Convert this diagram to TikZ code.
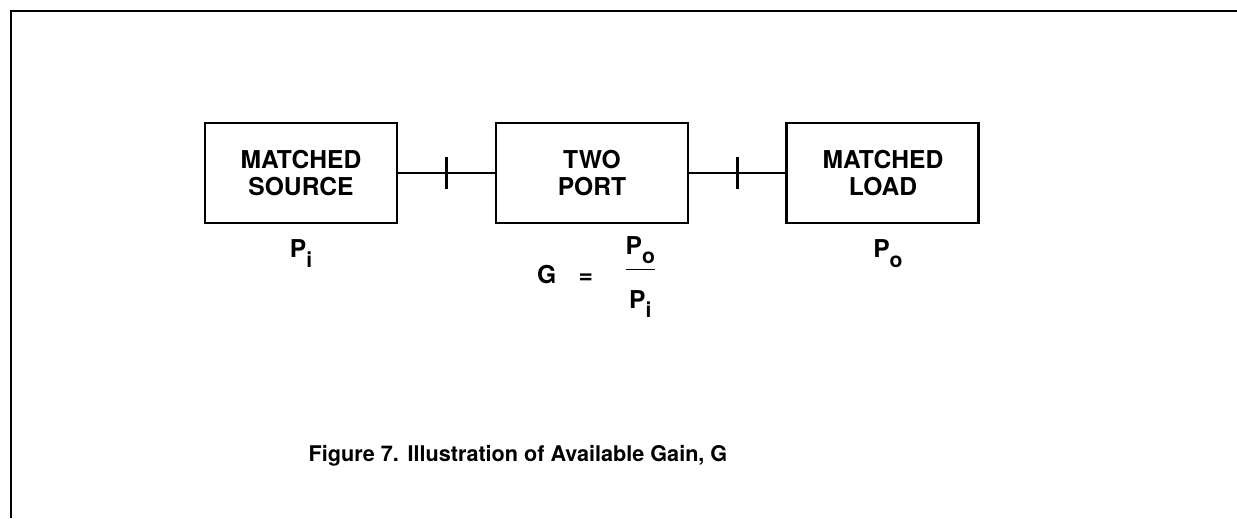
\documentclass[tikz,border=0pt]{standalone}
\usepackage{fontspec}
\setmainfont{TeX Gyre Heros}
\usetikzlibrary{positioning}
\newcommand{\lowsub}[1]{\raisebox{-0.7ex}{\fontsize{12}{12}\selectfont #1}}
\tikzset{
  blockbox/.style={
    rectangle, draw=black, line width=1.7pt,
    minimum width=3.84cm, minimum height=2cm,
    font=\fontsize{14}{15.5}\selectfont\bfseries, align=center, inner sep=2pt
  },
  linkline/.style={line width=1.3pt},
  tickmark/.style={line width=2pt},
  powerlabel/.style={
    font=\fontsize{14}{15}\selectfont\bfseries, inner sep=0pt
  },
  captiontext/.style={
    font=\fontsize{12.3}{15}\selectfont\bfseries
  },
}

\begin{document}
\begin{tikzpicture}
  \useasboundingbox (0,0) rectangle (24.74,-10.36);
  % Frame
  \draw[line width=1.6pt] (0.22,-10.36) -- (0.22,-0.22) -- (24.74,-0.22);

  % Blocks
  \node[blockbox] (src) at (6.02,-3.46) {MATCHED\\SOURCE};
  \node[blockbox, right=1.92cm of src] (twoport) {TWO\\PORT};
  \node[blockbox, right=1.92cm of twoport] (load) {MATCHED\\LOAD};

  % Connectors with tick marks
  \draw[linkline] (src) -- coordinate (tka) (twoport);
  \draw[linkline] (twoport) -- coordinate (tkb) (load);
  \draw[tickmark] ([yshift=0.32cm]tka) -- ([yshift=-0.32cm]tka);
  \draw[tickmark] ([yshift=0.32cm]tkb) -- ([yshift=-0.32cm]tkb);

  % Power labels
  \node[powerlabel, below=0.3cm of src] (pin) {P\lowsub{i}};
  \node[powerlabel, below=0.3cm of load, xshift=0.1cm] (pout) {P\lowsub{o}};
  \node[powerlabel, below=0.22cm of twoport, xshift=0.08cm] (gain)
    {G\hspace{0.45cm}=\hspace{0.65cm}\begin{tabular}[c]{@{}c@{}}P\lowsub{o}\\[4pt]\hline\rule{0pt}{22pt}P\lowsub{i}\end{tabular}};

  % Caption
  \node[captiontext] (caption) at (10.36,-9.12)
    {Figure 7.\hspace{0.4em}Illustration of Available Gain, G};
\end{tikzpicture}
\end{document}
